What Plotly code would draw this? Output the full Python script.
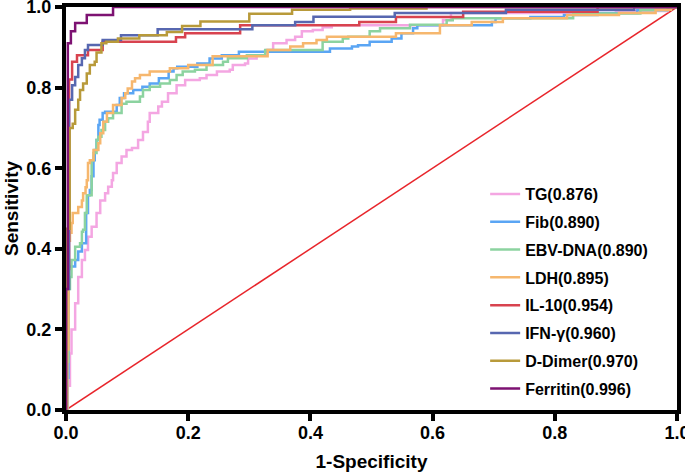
import plotly.graph_objects as go

# ROC curves (x = 1-specificity, y = sensitivity)
names = ["TG(0.876)", "Fib(0.890)", "EBV-DNA(0.890)", "LDH(0.895)",
         "IL-10(0.954)", "IFN-γ(0.960)", "D-Dimer(0.970)", "Ferritin(0.996)"]
colors = ["#F4A6E2", "#5AA5F4", "#8CD3A0", "#F6B76E",
          "#D8434F", "#5767B0", "#B89A3A", "#7D1272"]

tg_x = [0, 0.003, 0.0065, 0.009, 0.015, 0.020, 0.026, 0.031, 0.036, 0.042, 0.050, 0.056, 0.064, 0.069,
        0.075, 0.077, 0.083, 0.091, 0.099, 0.108, 0.118, 0.126, 0.134, 0.137, 0.151, 0.157, 0.167, 0.181,
        0.195, 0.219, 0.230, 0.247, 0.268, 0.273, 0.293, 0.298, 0.312, 0.328, 0.339, 0.361, 0.375, 0.386,
        0.404, 0.420, 0.435, 0.617, 0.630, 0.900, 0.985, 1.0]
tg_y = [0, 0.06, 0.14, 0.20, 0.265, 0.33, 0.372, 0.397, 0.43, 0.455, 0.489, 0.52, 0.538, 0.554,
        0.57, 0.588, 0.613, 0.629, 0.645, 0.65, 0.67, 0.69, 0.715, 0.737, 0.753, 0.765, 0.786, 0.806,
        0.819, 0.823, 0.831, 0.84, 0.844, 0.856, 0.86, 0.872, 0.88, 0.893, 0.91, 0.918, 0.926, 0.94,
        0.943, 0.95, 0.955, 0.968, 0.985, 0.99, 1.0, 1.0]

fib_x = [0, 0.002, 0.004, 0.015, 0.020, 0.026, 0.033, 0.036, 0.039, 0.042, 0.045, 0.047, 0.050, 0.053,
         0.055, 0.060, 0.064, 0.083, 0.088, 0.095, 0.110, 0.125, 0.137, 0.152, 0.168, 0.176, 0.182,
         0.215, 0.235, 0.255, 0.283, 0.432, 0.468, 0.478, 0.497, 0.533, 0.549, 0.568, 0.575, 0.697,
         0.703, 0.760, 0.815, 0.870, 0.935, 0.990, 1.0]
fib_y = [0, 0.08, 0.356, 0.372, 0.393, 0.414, 0.489, 0.533, 0.546, 0.58, 0.62, 0.645, 0.67, 0.707,
         0.72, 0.737, 0.74, 0.757, 0.774, 0.786, 0.794, 0.802, 0.81, 0.823, 0.84, 0.848, 0.852,
         0.86, 0.872, 0.88, 0.889, 0.897, 0.902, 0.905, 0.914, 0.922, 0.935, 0.947, 0.955, 0.963,
         0.972, 0.975, 0.98, 0.985, 0.993, 1.0, 1.0]

ebv_x = [0, 0.002, 0.004, 0.0065, 0.009, 0.015, 0.023, 0.026, 0.028, 0.031, 0.034, 0.042, 0.045, 0.050,
         0.053, 0.058, 0.064, 0.069, 0.077, 0.091, 0.099, 0.121, 0.126, 0.137, 0.154, 0.170, 0.181,
         0.191, 0.211, 0.230, 0.257, 0.265, 0.296, 0.326, 0.420, 0.453, 0.462, 0.497, 0.514, 0.563,
         0.623, 0.633, 0.830, 0.940, 0.985, 1.0]
ebv_y = [0, 0.12, 0.30, 0.33, 0.372, 0.405, 0.414, 0.442, 0.447, 0.489, 0.533, 0.62, 0.638, 0.67,
         0.678, 0.695, 0.715, 0.724, 0.737, 0.76, 0.765, 0.778, 0.794, 0.802, 0.81, 0.819, 0.831,
         0.84, 0.844, 0.856, 0.864, 0.873, 0.88, 0.893, 0.914, 0.922, 0.926, 0.94, 0.947, 0.956,
         0.967, 0.972, 0.984, 0.992, 1.0, 1.0]

ldh_x = [0, 0.002, 0.004, 0.0065, 0.009, 0.011, 0.020, 0.026, 0.028, 0.032, 0.034, 0.036, 0.039, 0.045,
         0.053, 0.056, 0.061, 0.067, 0.077, 0.091, 0.097, 0.101, 0.108, 0.113, 0.121, 0.137, 0.170,
         0.200, 0.240, 0.330, 0.367, 0.388, 0.410, 0.427, 0.540, 0.612, 0.664, 0.715, 0.820, 0.905,
         0.965, 0.990, 1.0]
ldh_y = [0, 0.15, 0.42, 0.44, 0.464, 0.489, 0.504, 0.52, 0.538, 0.553, 0.57, 0.613, 0.62, 0.645,
         0.662, 0.687, 0.715, 0.737, 0.757, 0.774, 0.786, 0.798, 0.815, 0.823, 0.831, 0.84, 0.848,
         0.856, 0.878, 0.893, 0.902, 0.91, 0.918, 0.926, 0.935, 0.955, 0.963, 0.972, 0.98, 0.985,
         0.993, 1.0, 1.0]

il10_x = [0, 0, 0.005, 0.010, 0.018, 0.036, 0.060, 0.180, 0.195, 0.285, 0.480, 0.540, 0.650, 0.870, 1.0]
il10_y = [0, 0.35, 0.82, 0.864, 0.88, 0.893, 0.914, 0.925, 0.935, 0.955, 0.963, 0.975, 0.988, 1.0, 1.0]

ifn_x = [0, 0, 0.005, 0.010, 0.015, 0.020, 0.026, 0.031, 0.036, 0.060, 0.090, 0.150, 0.305, 0.375,
         0.405, 0.538, 0.720, 0.930, 1.0]
ifn_y = [0, 0.30, 0.77, 0.806, 0.826, 0.856, 0.873, 0.893, 0.906, 0.918, 0.93, 0.945, 0.955, 0.963,
         0.976, 0.985, 0.993, 1.0, 1.0]

dd_x = [0, 0, 0.006, 0.011, 0.015, 0.020, 0.023, 0.028, 0.034, 0.039, 0.047, 0.050, 0.058, 0.066,
        0.085, 0.120, 0.165, 0.190, 0.220, 0.300, 0.370, 0.465, 0.590, 1.0]
dd_y = [0, 0.45, 0.70, 0.71, 0.745, 0.77, 0.794, 0.81, 0.835, 0.856, 0.864, 0.887, 0.91, 0.914,
        0.922, 0.93, 0.938, 0.953, 0.964, 0.983, 0.993, 0.996, 1.0, 1.0]

fer_x = [0, 0, 0.003, 0.008, 0.015, 0.034, 0.077, 1.0]
fer_y = [0, 0.30, 0.91, 0.94, 0.96, 0.98, 1.0, 1.0]

curves = [(tg_x, tg_y), (fib_x, fib_y), (ebv_x, ebv_y), (ldh_x, ldh_y),
          (il10_x, il10_y), (ifn_x, ifn_y), (dd_x, dd_y), (fer_x, fer_y)]

font = "Liberation Sans, Arial, sans-serif"

fig = go.Figure()

# reference diagonal
fig.add_trace(go.Scatter(x=[0, 1], y=[0, 1], mode="lines",
                         line=dict(color="#E8252B", width=1.5), showlegend=False, hoverinfo="skip"))

for name, color, (cx, cy) in zip(names, colors, curves):
    fig.add_trace(go.Scatter(x=cx, y=cy, mode="lines", name=name, legendgroup=name,
                             line=dict(color=color, width=2.5, shape="hv")))

axis_style = dict(range=[0, 1], tickvals=[0, 0.2, 0.4, 0.6, 0.8, 1.0], tickformat=".1f",
                  showline=True, linewidth=4, linecolor="black", mirror=True,
                  ticks="outside", ticklen=7, tickwidth=4, tickcolor="black",
                  showgrid=False, zeroline=False, layer="below traces",
                  automargin=False, ticklabeloverflow="allow",
                  tickfont=dict(family=font, size=18, color="black", weight="bold"))

fig.update_layout(
    width=685, height=475,
    margin=dict(l=66, r=8, t=7, b=65),
    plot_bgcolor="white", paper_bgcolor="white",
    xaxis=dict(axis_style, ticklabelstandoff=-4,
               title=dict(text="1-Specificity", standoff=14,
                          font=dict(family=font, size=19, color="black", weight="bold"))),
    yaxis=dict(axis_style, title=dict(text="Sensitivity", standoff=4,
                                      font=dict(family=font, size=19, color="black", weight="bold"))),
    legend=dict(x=0.686, y=0.578, xanchor="left", yanchor="top", bgcolor="rgba(0,0,0,0)",
                font=dict(family=font, size=16, color="black", weight="bold"),
                tracegroupgap=4, itemwidth=30),
)

# drop the page's default body margin so the figure sits at the window's corner
fig.write_html("out.html", config={"displayModeBar": False},
               post_script="document.body.style.margin = '0';")
